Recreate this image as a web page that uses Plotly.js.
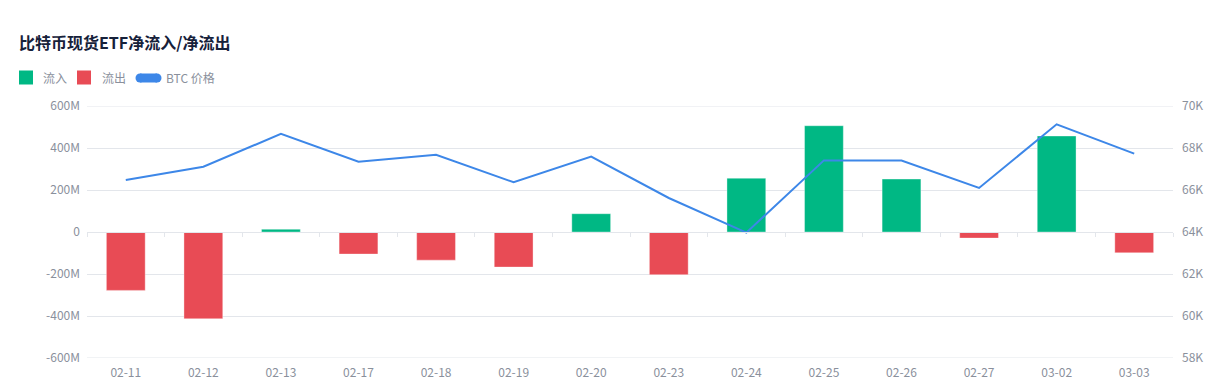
<!DOCTYPE html>
<html>
<head>
<meta charset="utf-8">
<script src="https://cdn.plot.ly/plotly-3.0.1.min.js"></script>
<style>
  html, body { margin: 0; padding: 0; background: #fff; }
  #chart { width: 1219px; height: 387px; }
</style>
</head>
<body>
<div id="chart"></div>
<script>
// ---- data ----
const dates = ['02-11','02-12','02-13','02-17','02-18','02-19','02-20','02-23','02-24','02-25','02-26','02-27','03-02','03-03'];
// net ETF flow, USD millions
const netFlow = [-278, -413, 13, -105, -134, -167, 87, -203, 256, 506, 252, -29, 457, -99];
// BTC price, USD
const btcPrice = [66480, 67110, 68670, 67350, 67680, 66370, 67590, 65620, 63970, 67410, 67400, 66100, 69130, 67730];
const flowTicks = [-600, -400, -200, 0, 200, 400, 600];
const flowTickText = ['-600M', '-400M', '-200M', '0', '200M', '400M', '600M'];
const priceTicks = [58000, 60000, 62000, 64000, 66000, 68000, 70000];
const priceTickText = ['58K', '60K', '62K', '64K', '66K', '68K', '70K'];
const seriesNames = ['流入', '流出', 'BTC 价格'];
const titleText = '比特币现货ETF净流入/净流出';

// ---- styles ----
const GREEN = '#00b884', RED = '#e84b55', BLUE = '#3d87e8';
const GRID = '#e3e6eb', AXIS_TXT = '#8a909c';
const FONT = '"Noto Sans CJK SC", "Noto Sans", sans-serif';

const inflow = netFlow.map(v => v >= 0 ? v : null);
const outflow = netFlow.map(v => v < 0 ? v : null);

// boundary ticks at the zero line
const boundaries = [];
for (let i = 0; i <= dates.length; i++) boundaries.push(i - 0.5);

const traces = [
  { type: 'bar', name: seriesNames[0], x: dates, y: inflow, width: 0.5,
    marker: { color: GREEN, line: { color: 'rgba(255,255,255,0.35)', width: 1 } },
    hoverinfo: 'x+y', showlegend: false },
  { type: 'bar', name: seriesNames[1], x: dates, y: outflow, width: 0.5,
    marker: { color: RED, line: { color: 'rgba(255,255,255,0.35)', width: 1 } },
    hoverinfo: 'x+y', showlegend: false },
  // helper trace so the zero-line boundary axis is drawn
  { type: 'scatter', mode: 'markers', x: boundaries, y: boundaries.map(() => 0), xaxis: 'x2',
    marker: { opacity: 0, size: 1 }, hoverinfo: 'skip', showlegend: false },
  { type: 'scatter', mode: 'lines', name: seriesNames[2], x: dates, y: btcPrice, yaxis: 'y2',
    line: { color: BLUE, width: 2 }, showlegend: false }
];

// custom legend (shapes + annotations), in pixels relative to plot area
const plotLeft = 87, plotTop = 106;
function px(xPix) { return xPix - plotLeft; }
function py(yPix) { return plotTop - yPix; }
const legendY = 77;
function pxShape(type, x0, x1, y0, y1, color) {
  return { type: type, xref: 'paper', yref: 'paper', xsizemode: 'pixel', ysizemode: 'pixel',
    xanchor: 0, yanchor: 1, x0: px(x0), x1: px(x1), y0: py(y1), y1: py(y0),
    fillcolor: color, line: { width: 0 } };
}
const shapes = [
  pxShape('rect', 19, 33, 70.5, 84.5, GREEN),
  pxShape('rect', 77, 91, 70.5, 84.5, RED),
  pxShape('rect', 140, 157, 73.5, 82.5, BLUE),
  pxShape('circle', 135.5, 144.5, 73.5, 82.5, BLUE),
  pxShape('circle', 152.5, 161.5, 73.5, 82.5, BLUE)
];
// gridlines at the range ends (Plotly skips grid lines at the plot edges)
[flowTicks[0], flowTicks[flowTicks.length - 1]].forEach(v => {
  shapes.push({ type: 'line', xref: 'paper', yref: 'y', x0: 0, x1: 1, y0: v, y1: v,
    layer: 'below', line: { color: GRID, width: 1 } });
});
const legendX = [43, 102, 166];
const annotations = seriesNames.map((n, i) => ({
  text: n, xref: 'paper', yref: 'paper', x: 0, y: 1, xanchor: 'left', yanchor: 'middle',
  xshift: legendX[i] - plotLeft - 2, yshift: plotTop - legendY, showarrow: false,
  font: { family: FONT, size: 12, color: AXIS_TXT }
}));

const layout = {
  width: 1219, height: 387,
  margin: { l: 87, r: 46, t: 106, b: 29, pad: 0 },
  paper_bgcolor: '#fff', plot_bgcolor: '#fff',
  font: { family: FONT, size: 12, color: AXIS_TXT },
  title: { text: '<b>' + titleText + '</b>', xref: 'container', yref: 'container',
    x: 19 / 1219, xanchor: 'left', y: 1 - 43.5 / 387, yanchor: 'middle',
    font: { family: FONT, size: 16, color: '#16213a' } },
  showlegend: false,
  barmode: 'relative',
  xaxis: { type: 'category', categoryorder: 'array', categoryarray: dates,
    range: [-0.5, dates.length - 0.5], showgrid: false, zeroline: false, showline: false,
    ticks: '', ticklabelstandoff: 6, tickfont: { size: 12, color: AXIS_TXT }, fixedrange: true },
  xaxis2: { type: 'linear', overlaying: 'x', anchor: 'free', position: 0.5,
    range: [-0.5, dates.length - 0.5], tickmode: 'array', tickvals: boundaries,
    showticklabels: false, ticks: 'outside', ticklen: 4, tickcolor: GRID, tickwidth: 1,
    showline: true, linecolor: GRID, linewidth: 1, showgrid: false, zeroline: false },
  yaxis: { range: [-600, 600], tickmode: 'array', tickvals: flowTicks, ticktext: flowTickText,
    showgrid: true, gridcolor: GRID, gridwidth: 1, zeroline: false, showline: false, ticks: '',
    ticklabelstandoff: 6, tickfont: { size: 12, color: AXIS_TXT } },
  yaxis2: { overlaying: 'y', side: 'right', range: [58000, 70000], tickmode: 'array',
    tickvals: priceTicks, ticktext: priceTickText, showgrid: false, zeroline: false,
    showline: false, ticks: '', ticklabelstandoff: 8, tickfont: { size: 12, color: AXIS_TXT } },
  shapes: shapes,
  annotations: annotations
};

Plotly.newPlot('chart', traces, layout, { displayModeBar: false, responsive: false });
</script>
</body>
</html>
